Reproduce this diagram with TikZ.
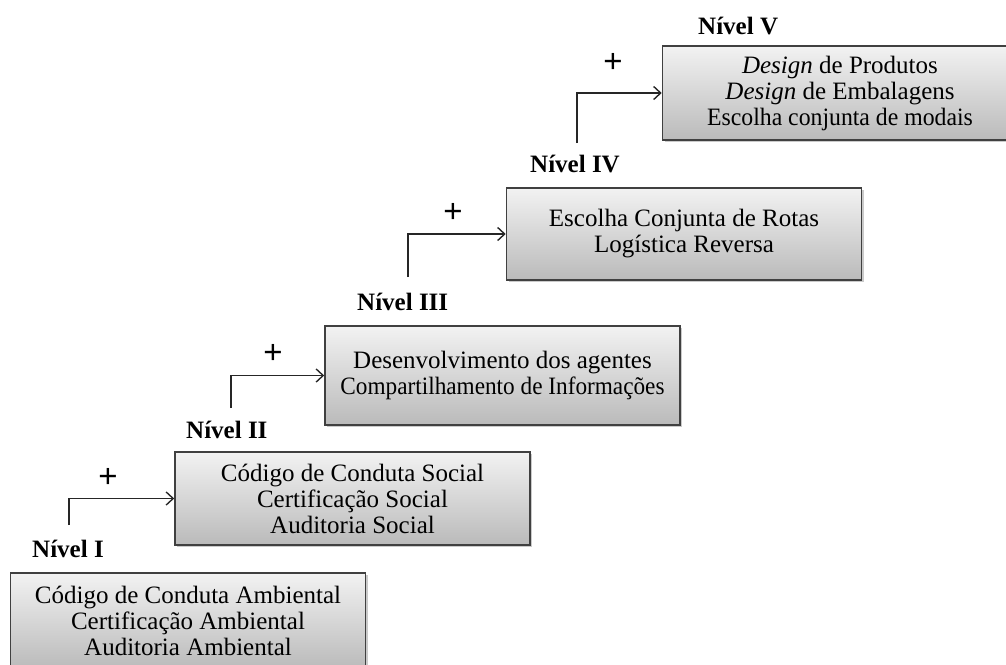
\documentclass[tikz,border=0pt]{standalone}
\usepackage{fontspec}
\setmainfont{Liberation Serif}
\newfontfamily\plusfont{Liberation Sans}
\usetikzlibrary{arrows.meta,shadows}

% slightly condensed line of text
\newcommand{\narrowline}[2]{\scalebox{#1}[1]{#2}}

\tikzset{
  levelbox/.style={draw=black!75, line width=1.6pt, top color=black!5, bottom color=black!27,
    minimum width=355pt, inner sep=0pt, align=center,
    font=\fontsize{25}{26}\selectfont,
    drop shadow={shadow xshift=2pt, shadow yshift=-2pt, opacity=0.35, fill=black!60}},
  levellabel/.style={anchor=base west, inner sep=0pt, font=\fontsize{25}{26}\selectfont\bfseries},
  plussign/.style={inner sep=0pt, font=\plusfont\fontsize{33}{33}\selectfont},
  stepline/.style={line width=1.4pt, draw=black!85, -{Straight Barb[length=7pt,width=13pt,line width=1.4pt]}}
}

\begin{document}
\begin{tikzpicture}[x=1pt,y=-1pt]
\useasboundingbox (0,0) rectangle (1006,664);

% level boxes
\node[levelbox, minimum height=96pt] (b1) at (188,621)
  {Código de Conduta Ambiental\\Certificação Ambiental\\Auditoria Ambiental};
\node[levelbox, minimum height=93pt] (b2) at (352.5,498.5)
  {Código de Conduta Social\\Certificação Social\\Auditoria Social};
\node[levelbox, minimum height=99pt] (b3) at (502.5,375.5)
  {Desenvolvimento dos agentes\\\narrowline{0.93}{Compartilhamento de Informações}};
\node[levelbox, minimum height=92pt] (b4) at (684,234)
  {Escolha Conjunta de Rotas\\Logística Reversa};
\node[levelbox, minimum height=94pt] (b5) at (840,93)
  {\textit{Design} de Produtos\\\textit{Design} de Embalagens\\\narrowline{0.95}{Escolha conjunta de modais}};

% level labels
\node[levellabel] (l1) at (32,557) {Nível I};
\node[levellabel] (l2) at (186,438) {Nível II};
\node[levellabel] (l3) at (357,310) {Nível III};
\node[levellabel] (l4) at (530,172) {Nível IV};
\node[levellabel] (l5) at (698,34) {Nível V};

% step connectors
\coordinate (c1) at (69,525);
\coordinate (c2) at (231,408);
\coordinate (c3) at (408,277);
\coordinate (c4) at (577,143);
\draw[stepline] (c1) |- (b2.west);
\draw[stepline] (c2) |- (b3.west);
\draw[stepline] (c3) |- (b4.west);
\draw[stepline] (c4) |- (b5.west);

% plus signs
\node[plussign] (p1) at (108,478) {+};
\node[plussign] (p2) at (273,354) {+};
\node[plussign] (p3) at (453,213) {+};
\node[plussign] (p4) at (613,63) {+};
\end{tikzpicture}
\end{document}
